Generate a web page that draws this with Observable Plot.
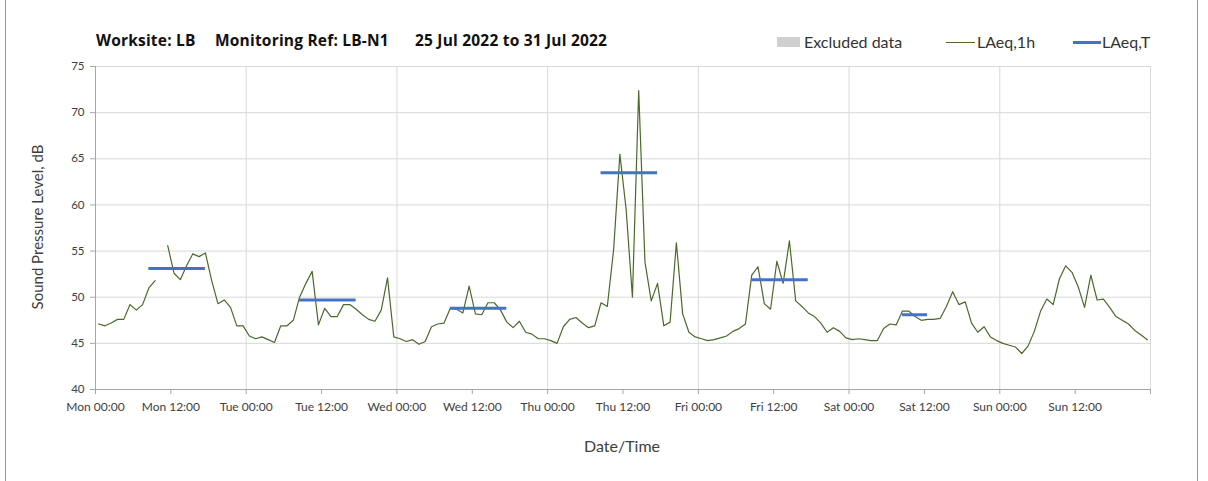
<!DOCTYPE html>
<html>
<head>
<meta charset="utf-8">
<script src="https://cdn.jsdelivr.net/npm/d3@7"></script>
<script src="https://cdn.jsdelivr.net/npm/@observablehq/plot@0.6"></script>
<style>
  html, body { margin: 0; padding: 0; background: #fff; }
  body { font-family: "Lato", "Open Sans", sans-serif; color: #404040; }
  #wrap { position: relative; width: 1208px; height: 481px; overflow: hidden; }
  #frame { position: absolute; left: 5px; top: -2px; width: 1191px; height: 500px;
           border-left: 1px solid #9a9a9a; border-right: 1px solid #9a9a9a; pointer-events: none; }
  #head { position: relative; height: 56px; }
  .t { position: absolute; top: 29px; font-family: "Open Sans", sans-serif; font-weight: bold; font-size: 15.5px;
       color: #111; white-space: nowrap; letter-spacing: 0.2px; }
  .lg { position: absolute; top: 32px; font-size: 16px; color: #333; white-space: nowrap; }
  .sw { position: absolute; }
  #ytitle { position: absolute; left: 37px; top: 227px; transform: translate(-50%, -50%) rotate(-90deg);
            font-size: 15px; color: #404040; white-space: nowrap; }
  #xtitle { position: absolute; left: 622px; top: 445px; transform: translate(-50%, -50%);
            font-size: 16px; color: #404040; white-space: nowrap; }
  svg [aria-label="x-axis tick"], svg [aria-label="y-axis tick"] { stroke: #a6a6a6; }
</style>
</head>
<body>
<div id="wrap">
  <div id="head">
    <span class="t" style="left:96px">Worksite: LB</span>
    <span class="t" style="left:215px">Monitoring Ref: LB-N1</span>
    <span class="t" style="left:415px">25 Jul 2022 to 31 Jul 2022</span>
    <div class="sw" style="left:777px; top:37px; width:23px; height:10px; background:#d0d0d0;"></div>
    <span class="lg" style="left:804px">Excluded data</span>
    <div class="sw" style="left:946px; top:42px; width:29px; height:1.3px; background:#4a6a2c;"></div>
    <span class="lg" style="left:977px">LAeq,1h</span>
    <div class="sw" style="left:1073px; top:41px; width:28px; height:3px; background:#4472c4;"></div>
    <span class="lg" style="left:1102px">LAeq,T</span>
  </div>
  <div id="chart"></div>
  <div id="ytitle">Sound Pressure Level, dB</div>
  <div id="xtitle">Date/Time</div>
  <div id="frame"></div>
</div>
<script>
// Hourly LAeq,1h from Mon 25 Jul 2022 00:00 (hour index 0..167); null = no data
const laeq1h = [
  47.1, 46.9, 47.2, 47.6, 47.6, 49.2, 48.6, 49.2, 51.0, 51.8, null, 55.6,
  52.6, 51.9, 53.4, 54.7, 54.4, 54.8, 51.8, 49.3, 49.7, 48.9, 46.9, 46.9,
  45.8, 45.5, 45.7, 45.4, 45.1, 46.9, 46.9, 47.5, 50.0, 51.5, 52.8, 47.0,
  48.8, 47.9, 47.9, 49.2, 49.2, 48.7, 48.1, 47.6, 47.4, 48.6, 52.1, 45.7,
  45.5, 45.2, 45.4, 44.9, 45.2, 46.8, 47.1, 47.2, 48.8, 48.7, 48.3, 51.2,
  48.2, 48.1, 49.4, 49.4, 48.6, 47.3, 46.7, 47.4, 46.2, 46.0, 45.5, 45.5,
  45.3, 45.0, 46.8, 47.6, 47.8, 47.2, 46.7, 46.9, 49.4, 49.0, 55.1, 65.5,
  59.5, 50.0, 72.4, 53.8, 49.6, 51.5, 46.9, 47.3, 55.9, 48.2, 46.2, 45.7,
  45.5, 45.3, 45.4, 45.6, 45.8, 46.3, 46.6, 47.1, 52.4, 53.3, 49.3, 48.7,
  53.9, 51.5, 56.1, 49.6, 49.0, 48.3, 47.9, 47.2, 46.2, 46.7, 46.3, 45.6,
  45.4, 45.5, 45.4, 45.3, 45.3, 46.6, 47.1, 47.0, 48.5, 48.5, 47.9, 47.5,
  47.6, 47.6, 47.7, 49.0, 50.6, 49.2, 49.5, 47.2, 46.2, 46.8, 45.7, 45.3,
  45.0, 44.8, 44.6, 43.9, 44.7, 46.3, 48.5, 49.8, 49.2, 52.0, 53.4, 52.7,
  51.1, 48.9, 52.4, 49.7, 49.8, 48.9, 47.9, 47.5, 47.1, 46.4, 45.9, 45.4
];
const hourIndex = d3.range(laeq1h.length);

// LAeq,T periods (hour index of first and last hour in the period)
const periodStartHour = [8, 32, 56, 80, 104, 128];
const periodEndHour   = [17, 41, 65, 89, 113, 132];
const laeqT           = [53.1, 49.7, 48.8, 63.5, 51.9, 48.1];

// Axes
const tickHours  = [0, 12, 24, 36, 48, 60, 72, 84, 96, 108, 120, 132, 144, 156, 168];
const tickLabels = ["Mon 00:00", "Mon 12:00", "Tue 00:00", "Tue 12:00", "Wed 00:00", "Wed 12:00",
                    "Thu 00:00", "Thu 12:00", "Fri 00:00", "Fri 12:00", "Sat 00:00", "Sat 12:00",
                    "Sun 00:00", "Sun 12:00", ""];
const dayLines   = [0, 24, 48, 72, 96, 120, 144, 168];
const yTicks     = [40, 45, 50, 55, 60, 65, 70, 75];

const series  = hourIndex.map((h, i) => ({t: h + 0.5, v: laeq1h[i]}));
const periods = laeqT.map((v, i) => ({x1: periodStartHour[i] + 0.5, x2: periodEndHour[i] + 0.5, v}));

const chart = Plot.plot({
  width: 1208,
  height: 425,
  marginLeft: 95,
  marginRight: 58,
  marginTop: 10,
  marginBottom: 92,
  style: {fontFamily: "Lato, 'Open Sans', sans-serif", fontSize: "12px", color: "#404040", background: "transparent", overflow: "visible"},
  x: {domain: [0, 168]},
  y: {domain: [40, 75]},
  marks: [
    Plot.ruleY(yTicks.filter(d => d > 40), {stroke: "#d9d9d9", strokeWidth: 1}),
    Plot.ruleX(dayLines.filter(d => d > 0), {stroke: "#d9d9d9", strokeWidth: 1}),
    Plot.ruleY([40], {stroke: "#a6a6a6", strokeWidth: 1}),
    Plot.ruleX([0], {stroke: "#a6a6a6", strokeWidth: 1}),
    Plot.axisX({ticks: tickHours, tickFormat: (d) => tickLabels[tickHours.indexOf(d)], tickSize: 5, tickPadding: 8, fontSize: 12, label: null}),
    Plot.axisY({ticks: yTicks, tickSize: 5, tickPadding: 6, fontSize: 11.5, label: null}),
    Plot.line(series, {x: "t", y: "v", stroke: "#4a6a2c", strokeWidth: 1.2}),
    Plot.ruleY(periods, {x1: "x1", x2: "x2", y: "v", stroke: "#4472c4", strokeWidth: 3})
  ]
});
document.getElementById("chart").appendChild(chart);
</script>
</body>
</html>
